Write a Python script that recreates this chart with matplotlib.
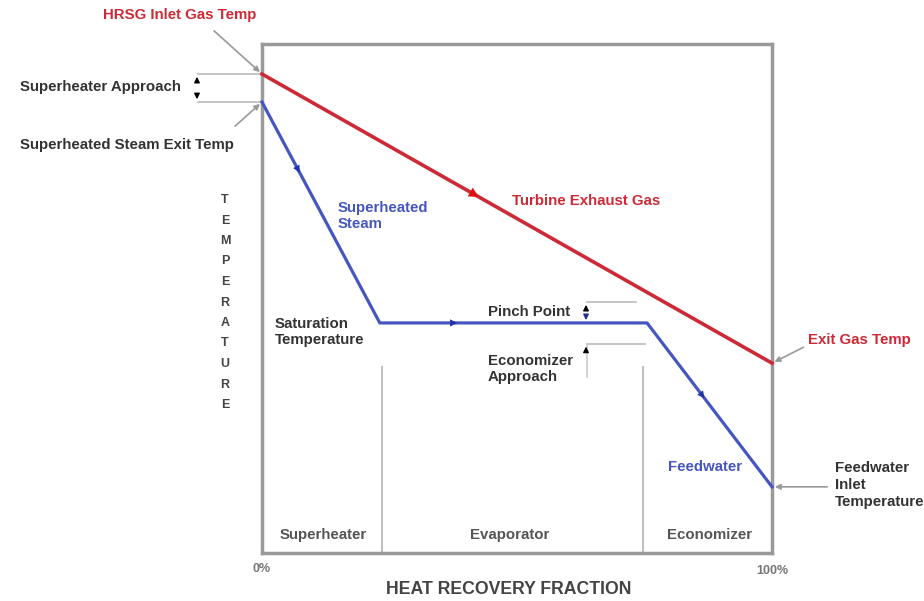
import numpy as np
import matplotlib
matplotlib.use('Agg')
import matplotlib.pyplot as plt

plt.rcParams['font.family'] = ['Liberation Sans', 'DejaVu Sans']
plt.rcParams['font.weight'] = 'bold'

# heat recovery fraction [%] and temperature (arbitrary units, 0-100)
gas_x = [0., 100.]
gas_t = [94.1, 37.3]

water_x = [0., 23.1, 75.5, 100.]
water_t = [88.6, 45.2, 45.2, 13.0]

section_x = [23.5, 74.7]
section_top = 36.5
section_names = ['Superheater', 'Evaporator', 'Economizer']
section_mid = [12.0, 48.5, 87.7]

pinch_gas_t = 49.3
econ_exit_t = 41.1

W, H = 924, 601
L, R, T, B = 262, 772, 44, 553

def px(x):
    return (x - L) / (R - L) * 100.

def py(y):
    return (B - y) / (B - T) * 100.

red = '#cc2a36'
blue = '#4656c0'
gray = '#9a9a9a'
fs = 10.8

fig = plt.figure(figsize=(W/100., H/100.), dpi=100)
ax = fig.add_axes([L/W, (H-B)/H, (R-L)/W, (B-T)/H])
ax.set_xlim(0, 100)
ax.set_ylim(0, 100)
ax.set_xticks([])
ax.set_yticks([])
for sp in ax.spines.values():
    sp.set_color(gray)
    sp.set_linewidth(2.5)

# section dividers
for sx in section_x:
    ax.plot([sx, sx], [0, section_top], color='#c0c0c0', lw=1.5)
for nm, sm in zip(section_names, section_mid):
    ax.text(sm, py(535), nm, ha='center', va='center', fontsize=fs, color='#555555')

# gas and steam/water lines
ax.plot(gas_x, gas_t, color=red, lw=2.6, clip_on=False, zorder=5)
ax.plot(water_x, water_t, color=blue, lw=2.3, clip_on=False, zorder=5)

def arrow_on(xs, ts, i, f, col, ms):
    x0 = xs[i] + (xs[i+1]-xs[i])*f
    t0 = ts[i] + (ts[i+1]-ts[i])*f
    x1 = xs[i] + (xs[i+1]-xs[i])*(f+0.02)
    t1 = ts[i] + (ts[i+1]-ts[i])*(f+0.02)
    ax.annotate('', xy=(x1, t1), xytext=(x0, t0),
                arrowprops=dict(arrowstyle='-|>', color=col, lw=0, mutation_scale=ms), zorder=6)

arrow_on(gas_x, gas_t, 0, 0.41, '#dd1111', 18)
arrow_on(water_x, water_t, 0, 0.30, '#2233aa', 13)
arrow_on(water_x, water_t, 1, 0.27, '#2233aa', 13)
arrow_on(water_x, water_t, 2, 0.44, '#2233aa', 13)

# axis labels
ax.text(0, py(569), '0%', ha='center', va='center', fontsize=fs-1.8, color='#777777')
ax.text(100, py(571), '100%', ha='center', va='center', fontsize=fs-1.8, color='#777777')
ax.text(px(509), py(590), 'HEAT RECOVERY FRACTION', ha='center', va='center',
        fontsize=12.7, color='#444444')
for k, ch in enumerate('TEMPERATURE'):
    ax.text(px(225), py(200 + k*20.5), ch, ha='center', va='center', fontsize=fs-1.8,
            color='#444444')

# HRSG inlet gas temp
ax.text(px(180), py(15), 'HRSG Inlet Gas Temp', ha='center', va='center', fontsize=fs, color=red)
ax.annotate('', xy=(0, gas_t[0]), xytext=(px(212), py(29)),
            arrowprops=dict(arrowstyle='-|>', color=gray, lw=1.2, mutation_scale=8), annotation_clip=False)

# superheater approach bracket
for tt in [gas_t[0], water_t[0]]:
    ax.plot([px(198), 0], [tt, tt], color='#bbbbbb', lw=1.2, clip_on=False)
ax.annotate('', xy=(px(197), gas_t[0]), xytext=(px(197), gas_t[0]-2.2),
            arrowprops=dict(arrowstyle='-|>', color='k', lw=1, mutation_scale=8), annotation_clip=False)
ax.annotate('', xy=(px(197), water_t[0]), xytext=(px(197), water_t[0]+2.2),
            arrowprops=dict(arrowstyle='-|>', color='k', lw=1, mutation_scale=8), annotation_clip=False)
ax.text(px(20), py(87), 'Superheater Approach', ha='left', va='center', fontsize=fs, color='#333333')

# superheated steam exit temp
ax.text(px(20), py(145), 'Superheated Steam Exit Temp', ha='left', va='center', fontsize=fs, color='#333333')
ax.annotate('', xy=(0, water_t[0]), xytext=(px(233), py(128)),
            arrowprops=dict(arrowstyle='-|>', color=gray, lw=1.2, mutation_scale=8), annotation_clip=False)

ax.text(px(338), py(216), 'Superheated\nSteam', ha='left', va='center', fontsize=fs, color=blue,
        linespacing=1.2)
ax.text(px(512), py(201), 'Turbine Exhaust Gas', ha='left', va='center', fontsize=fs, color=red)
ax.text(px(275), py(332), 'Saturation\nTemperature', ha='left', va='center', fontsize=fs, color='#333333',
        linespacing=1.2)

# pinch point and economizer approach
ax.plot([px(587), px(636)], [pinch_gas_t, pinch_gas_t], color='#bbbbbb', lw=1.2)
ax.plot([px(587), px(645)], [econ_exit_t, econ_exit_t], color='#bbbbbb', lw=1.2)
ax.plot([px(587), px(587)], [econ_exit_t, py(377)], color='#cccccc', lw=1.2)
ax.annotate('', xy=(px(586), pinch_gas_t), xytext=(px(586), pinch_gas_t-2),
            arrowprops=dict(arrowstyle='-|>', color='k', lw=1, mutation_scale=8))
ax.annotate('', xy=(px(586), water_t[1]), xytext=(px(586), water_t[1]+2),
            arrowprops=dict(arrowstyle='-|>', color='#223388', lw=1, mutation_scale=8))
ax.annotate('', xy=(px(586), econ_exit_t), xytext=(px(586), econ_exit_t-2),
            arrowprops=dict(arrowstyle='-|>', color='k', lw=1, mutation_scale=8))
ax.text(px(488), py(312), 'Pinch Point', ha='left', va='center', fontsize=fs, color='#333333')
ax.text(px(488), py(369), 'Economizer\nApproach', ha='left', va='center', fontsize=fs, color='#333333',
        linespacing=1.2)

# exit gas temp
ax.text(px(808), py(340), 'Exit Gas Temp', ha='left', va='center', fontsize=fs, color=red)
ax.annotate('', xy=(100, gas_t[1]), xytext=(px(806), py(346)),
            arrowprops=dict(arrowstyle='-|>', color=gray, lw=1.2, mutation_scale=8), annotation_clip=False)

# feedwater
ax.text(px(668), py(467), 'Feedwater', ha='left', va='center', fontsize=fs, color=blue)
ax.text(px(835), py(485), 'Feedwater\nInlet\nTemperature', ha='left', va='center', fontsize=fs,
        color='#333333', linespacing=1.25)
ax.annotate('', xy=(100, water_t[3]), xytext=(px(830), water_t[3]),
            arrowprops=dict(arrowstyle='-|>', color=gray, lw=1.2, mutation_scale=8), annotation_clip=False)

fig.savefig('out.png', dpi=100)
